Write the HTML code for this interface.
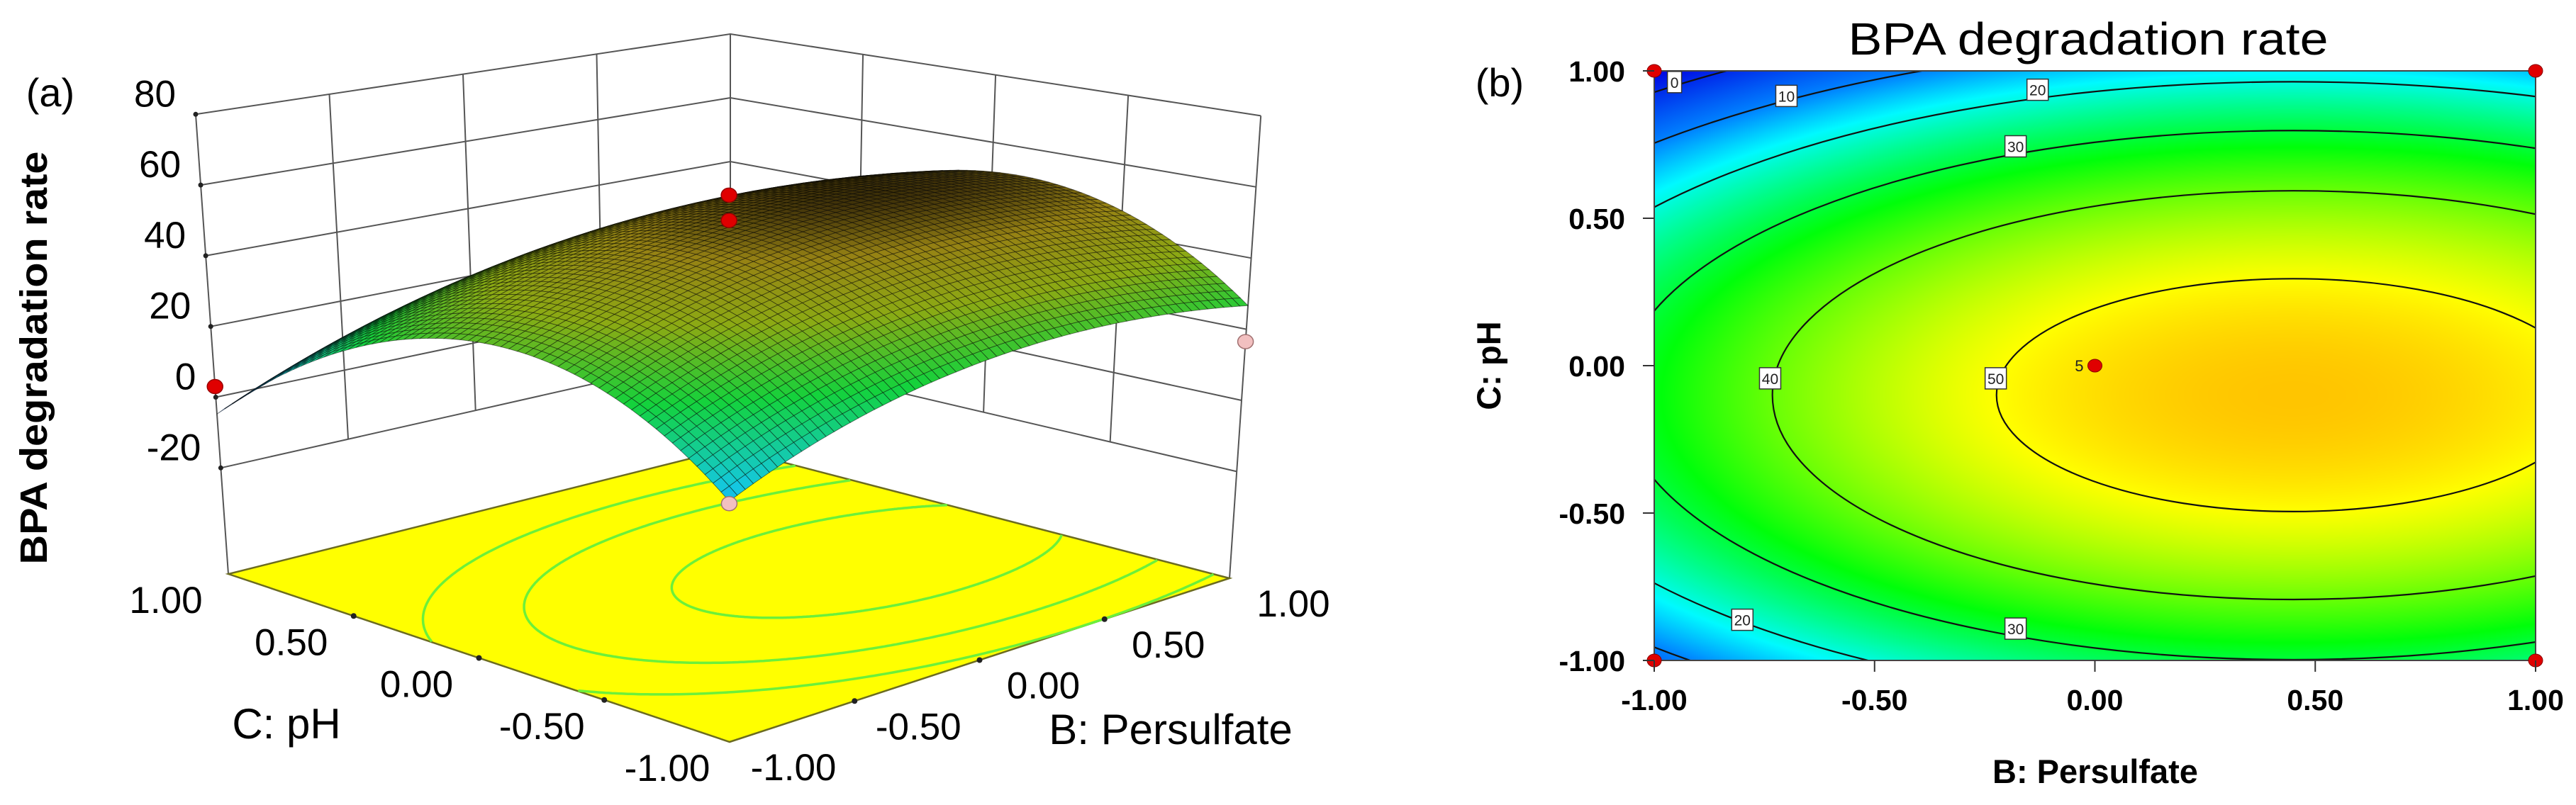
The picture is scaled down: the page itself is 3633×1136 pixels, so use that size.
<!DOCTYPE html>
<html><head><meta charset="utf-8"><style>
html,body{margin:0;padding:0;background:#fff;width:3633px;height:1136px;overflow:hidden;}
#wrap{position:relative;width:3633px;height:1136px;}
#heat{position:absolute;left:2333px;top:100px;}
#svg{position:absolute;left:0;top:0;}
text{font-family:"Liberation Sans",sans-serif;}
</style></head><body>
<div id="wrap">
<canvas id="heat" width="1243" height="832"></canvas>
<svg id="svg" width="3633" height="1136" xmlns="http://www.w3.org/2000/svg">
  <text x="71" y="150" font-size="56" text-anchor="middle">(a)</text>
  <text x="2115" y="136" font-size="56" text-anchor="middle">(b)</text>
  <text transform="translate(66,505) rotate(-90)" font-size="54" font-weight="bold" text-anchor="middle" textLength="583" lengthAdjust="spacingAndGlyphs">BPA degradation rate</text>
  <text x="404" y="1042" font-size="60" text-anchor="middle">C: pH</text>
  <text x="1651" y="1050" font-size="60" text-anchor="middle">B: Persulfate</text>
  <text x="2945" y="77" font-size="64" text-anchor="middle" textLength="677" lengthAdjust="spacingAndGlyphs">BPA degradation rate</text>
  <text x="2955" y="1105" font-size="47" font-weight="bold" text-anchor="middle">B: Persulfate</text>
  <text transform="translate(2116,516) rotate(-90)" font-size="47" font-weight="bold" text-anchor="middle">C: pH</text>
  <g id="g3d"></g>
  <g id="g2d"></g>
</svg>
</div>
<script>
// ---- model data (quadratic response surface) ----
const coefNames = ["intercept", "B", "C", "B2", "C2"];
const coefs = [52.35, 9.54, -6.16, -10.6, -30.8];
const contourLevels = [0, 10, 20, 30, 40, 50];
const floorContourLevels = [30, 40, 50];
const contourLabelLevels = [0, 10, 20, 30, 40, 50, 20, 30];
const contourLabelB = [-0.954, -0.70, -0.13, -0.18, -0.737, -0.225, -0.80, -0.18];
const contourLabelC = [0.962, 0.915, 0.936, 0.744, -0.043, -0.043, -0.862, -0.892];
const designB = [-1, 1, -1, 1, 0];
const designC = [1, 1, -1, -1, 0];
const axisTicks = [-1, -0.5, 0, 0.5, 1];
const axisTickLabels = ["-1.00", "-0.50", "0.00", "0.50", "1.00"];
const zTicks = [-20, 0, 20, 40, 60, 80];
const zTickLabels = ["-20", "0", "20", "40", "60", "80"];
const pointB3d = [-1, 0, 0, -1, 1];
const pointC3d = [1, 0, 0, -1, -1];
const pointZ3d = [3, 58, 51, 7, 16.5];
const pointAbove3d = [1, 1, 1, 0, 0];

function f(B, C) {
  return coefs[0] + coefs[1]*B + coefs[2]*C + coefs[3]*B*B + coefs[4]*C*C;
}
const kB = -coefs[3], kC = -coefs[4];
const B0 = coefs[1]/(2*kB), C0 = coefs[2]/(2*kC);
const FMAX = f(B0, C0);

const NS = "http://www.w3.org/2000/svg";
function mk(tag, attrs, parent) {
  const e = document.createElementNS(NS, tag);
  for (const k in attrs) e.setAttribute(k, attrs[k]);
  parent.appendChild(e);
  return e;
}
function lerpCol(stops, v) {
  if (v <= stops[0][0]) return stops[0][1];
  for (let i = 1; i < stops.length; i++) {
    if (v <= stops[i][0]) {
      const t = (v - stops[i-1][0])/(stops[i][0]-stops[i-1][0]);
      const a = stops[i-1][1], b = stops[i][1];
      return [a[0]+(b[0]-a[0])*t, a[1]+(b[1]-a[1])*t, a[2]+(b[2]-a[2])*t];
    }
  }
  return stops[stops.length-1][1];
}
const map2d = [[-5,[0,0,225]],[10,[0,130,255]],[18,[0,250,255]],[33,[0,255,10]],[50,[255,255,0]],[57,[255,170,0]]];
const map3d = [[-8,[20,80,240]],[10,[20,200,225]],[25,[20,210,60]],[38,[140,170,20]],[48,[150,130,20]],[54,[70,55,10]],[58,[20,15,0]]];

// ---- contour plot (b) ----
const PX0 = 2333, PX1 = 3576, PY0 = 100, PY1 = 932;
const sx = B => PX0 + (B + 1)/2*(PX1 - PX0);
const sy = C => PY1 - (C + 1)/2*(PY1 - PY0);
(function () {
  const cv = document.getElementById('heat');
  const ctx = cv.getContext('2d');
  const W = cv.width, H = cv.height;
  const img = ctx.createImageData(W, H);
  for (let j = 0; j < H; j++) {
    const C = 1 - j/(H-1)*2;
    for (let i = 0; i < W; i++) {
      const B = -1 + i/(W-1)*2;
      const c = lerpCol(map2d, f(B, C));
      const p = (j*W + i)*4;
      img.data[p] = c[0]; img.data[p+1] = c[1]; img.data[p+2] = c[2]; img.data[p+3] = 255;
    }
  }
  ctx.putImageData(img, 0, 0);

  const g = document.getElementById('g2d');
  const defs = mk('defs', {}, g);
  const cp = mk('clipPath', {id: 'plotclip'}, defs);
  mk('rect', {x: PX0, y: PY0, width: PX1-PX0, height: PY1-PY0}, cp);
  const lines = mk('g', {'clip-path': 'url(#plotclip)'}, g);
  
  
  contourLevels.forEach(L => {
    const d = FMAX - L;
    if (d <= 0) return;
    const rB = Math.sqrt(d/kB), rC = Math.sqrt(d/kC);
    const el = mk('ellipse', {cx: sx(B0), cy: sy(C0), rx: rB*(PX1-PX0)/2, ry: rC*(PY1-PY0)/2,
      fill: 'none', stroke: '#111', 'stroke-width': 2.2}, lines);
    
    
  });
  const fr = mk('rect', {x: PX0, y: PY0, width: PX1-PX0, height: PY1-PY0, fill: 'none', stroke: '#444', 'stroke-width': 2}, g);
  
  
  contourLabelLevels.forEach((L, i) => {
    const x = sx(contourLabelB[i]), y = sy(contourLabelC[i]);
    const w = String(L).length > 1 ? 30 : 20;
    const grp = mk('g', {}, g);
    
    
    mk('rect', {x: x - w/2, y: y - 15, width: w, height: 30, fill: '#fff', stroke: '#333', 'stroke-width': 1.5}, grp);
    const t = mk('text', {x: x, y: y + 8, 'font-size': 21, 'text-anchor': 'middle', fill: '#222'}, grp);
    t.textContent = L;
  });
  designB.forEach((B, i) => {
    const c = mk('ellipse', {cx: sx(B), cy: sy(designC[i]), rx: 10, ry: 9, fill: '#e00000', stroke: '#800', 'stroke-width': 1}, g);
    
    
  });
  const t5 = mk('text', {x: sx(0) - 16, y: sy(0) + 8, 'font-size': 22, 'text-anchor': 'end', fill: '#222'}, g);
  
  
  t5.textContent = '5';
  axisTicks.forEach((v, i) => {
    const yt = mk('line', {x1: PX0 - 16, x2: PX0, y1: sy(v), y2: sy(v), stroke: '#333', 'stroke-width': 2}, g);
    
    
    const yl = mk('text', {x: 2292, y: sy(v) + 15, 'font-size': 41, 'font-weight': 'bold', 'text-anchor': 'end'}, g);
    
    
    yl.textContent = axisTickLabels[i];
    const xt = mk('line', {x1: sx(v), x2: sx(v), y1: PY1, y2: PY1 + 16, stroke: '#333', 'stroke-width': 2}, g);
    
    
    const xl = mk('text', {x: sx(v), y: 1002, 'font-size': 41, 'font-weight': 'bold', 'text-anchor': 'middle'}, g);
    
    
    xl.textContent = axisTickLabels[i];
  });
})();

// ---- 3D surface (a) ----
const ZF = -50;
const cL = [322, 810], cF = [1029, 1047], cR = [1734, 816], cK = [1030, 633];
const uL = [-0.354, -4.99], uF = [-0.01, -5.9], uR = [0.34, -5.02], uK = [0, -4.5];
function bil(a, b, c, d, u, v) {
  return [a[0]*(1-u)*(1-v) + b[0]*u*(1-v) + c[0]*(1-u)*v + d[0]*u*v,
          a[1]*(1-u)*(1-v) + b[1]*u*(1-v) + c[1]*(1-u)*v + d[1]*u*v];
}
function P(B, C, z) {
  const u = (B + 1)/2, v = (C + 1)/2;
  const fl = bil(cF, cR, cL, cK, u, v), up = bil(uF, uR, uL, uK, u, v);
  return [fl[0] + up[0]*(z - ZF), fl[1] + up[1]*(z - ZF)];
}
const pt = p => p[0].toFixed(1) + ',' + p[1].toFixed(1);
(function () {
  const g = document.getElementById('g3d');
  const walls = mk('g', {stroke: '#555', 'stroke-width': 2, fill: 'none'}, g);
  
  
  zTicks.forEach(z => {
    mk('polyline', {points: [P(-1,1,z), P(1,1,z), P(1,-1,z)].map(pt).join(' ')}, walls);
  });
  [-0.5, 0, 0.5].forEach(v => {
    mk('line', {x1: P(v,1,80)[0], y1: P(v,1,80)[1], x2: P(v,1,-20)[0], y2: P(v,1,-20)[1]}, walls);
    mk('line', {x1: P(1,v,80)[0], y1: P(1,v,80)[1], x2: P(1,v,-20)[0], y2: P(1,v,-20)[1]}, walls);
  });
  mk('line', {x1: P(-1,1,80)[0], y1: P(-1,1,80)[1], x2: P(-1,1,ZF)[0], y2: P(-1,1,ZF)[1]}, walls);
  mk('line', {x1: P(1,1,80)[0], y1: P(1,1,80)[1], x2: P(1,1,ZF)[0], y2: P(1,1,ZF)[1]}, walls);
  mk('line', {x1: P(1,-1,80)[0], y1: P(1,-1,80)[1], x2: P(1,-1,ZF)[0], y2: P(1,-1,ZF)[1]}, walls);
  zTicks.forEach((z, i) => {
    const p = P(-1, 1, z);
    const d = mk('circle', {cx: p[0], cy: p[1], r: 3.5, fill: '#222'}, g);
    
    
    const t = mk('text', {x: p[0] - 28, y: p[1] - 11, 'font-size': 53, 'text-anchor': 'end'}, g);
    
    
    t.textContent = zTickLabels[i];
  });
  const floor = mk('polygon', {points: [P(-1,1,ZF), P(-1,-1,ZF), P(1,-1,ZF), P(1,1,ZF)].map(pt).join(' '),
    fill: '#ffff00', stroke: '#6b6b20', 'stroke-width': 2.5}, g);
  
  
  const fc = mk('g', {fill: 'none', stroke: '#6cf03a', 'stroke-width': 3.5}, g);
  
  
  floorContourLevels.forEach(L => {
    const d = FMAX - L; if (d <= 0) return;
    const rB = Math.sqrt(d/kB), rC = Math.sqrt(d/kC);
    let seg = [];
    const flush = () => { if (seg.length > 1) mk('polyline', {points: seg.map(pt).join(' ')}, fc); seg = []; };
    for (let k = 0; k <= 720; k++) {
      const t = k/720*2*Math.PI;
      const B = B0 + rB*Math.cos(t), C = C0 + rC*Math.sin(t);
      if (B >= -1 && B <= 1 && C >= -1 && C <= 1) seg.push(P(B, C, ZF)); else flush();
    }
    flush();
  });
  axisTicks.forEach((v, i) => {
    const pc = P(-1, v, ZF);
    if (Math.abs(v) < 1) mk('circle', {cx: pc[0], cy: pc[1], r: 4, fill: '#222'}, g);
    const tc = mk('text', {x: pc[0] - 88, y: pc[1] + 55, 'font-size': 53, 'text-anchor': 'middle'}, g);
    
    
    tc.textContent = axisTickLabels[i];
    const pb = P(v, -1, ZF);
    if (Math.abs(v) < 1) mk('circle', {cx: pb[0], cy: pb[1], r: 4, fill: '#222'}, g);
    const tb = mk('text', {x: pb[0] + 90, y: pb[1] + 54, 'font-size': 53, 'text-anchor': 'middle'}, g);
    
    
    tb.textContent = axisTickLabels[i];
  });
  const surf = mk('g', {stroke: 'rgba(0,0,0,0.5)', 'stroke-width': 0.9}, g);
  
  
  const N = 64;
  const cells = [];
  for (let i = 0; i < N; i++) for (let j = 0; j < N; j++) cells.push([i, j]);
  cells.sort((a, b) => (b[0] + b[1]) - (a[0] + a[1]));
  cells.forEach(([i, j]) => {
    const B1 = -1 + 2*i/N, B2 = -1 + 2*(i+1)/N, C1 = -1 + 2*j/N, C2 = -1 + 2*(j+1)/N;
    const zc = f((B1+B2)/2, (C1+C2)/2);
    const col = lerpCol(map3d, zc);
    mk('polygon', {points: [P(B1,C1,f(B1,C1)), P(B2,C1,f(B2,C1)), P(B2,C2,f(B2,C2)), P(B1,C2,f(B1,C2))].map(pt).join(' '),
      fill: 'rgb(' + col.map(Math.round).join(',') + ')'}, surf);
  });
  pointB3d.forEach((B, i) => {
    const p = P(B, pointC3d[i], pointZ3d[i]);
    const c = mk('ellipse', {cx: p[0], cy: p[1], rx: 11, ry: 10,
      fill: pointAbove3d[i] ? '#e00000' : '#f2c0c0', stroke: pointAbove3d[i] ? '#900' : '#a07070', 'stroke-width': 1.5}, g);
    
    
  });
})();
</script>
</body></html>
